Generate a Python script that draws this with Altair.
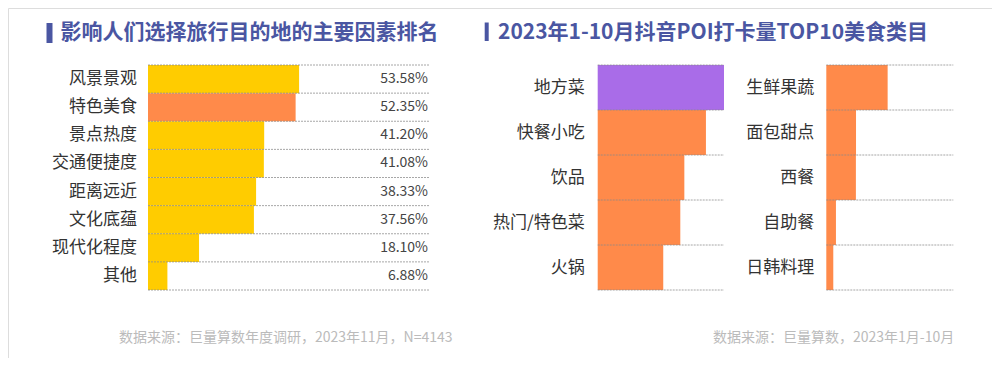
import altair as alt
import pandas as pd

FONT = "Noto Sans CJK SC"

# ---------- data ----------
left_title = "影响人们选择旅行目的地的主要因素排名"
left_cats = ["风景景观", "特色美食", "景点热度", "交通便捷度", "距离远近", "文化底蕴", "现代化程度", "其他"]
left_vals = [53.58, 52.35, 41.20, 41.08, 38.33, 37.56, 18.10, 6.88]
left_note = "数据来源：巨量算数年度调研，2023年11月，N=4143"

right_title = "2023年1-10月抖音POI打卡量TOP10美食类目"
food1_cats = ["地方菜", "快餐小吃", "饮品", "热门/特色菜", "火锅"]
food1_vals = [100.0, 85.7, 68.6, 65.4, 51.9]
food2_cats = ["生鲜果蔬", "面包甜点", "西餐", "自助餐", "日韩料理"]
food2_vals = [48.3, 23.4, 23.3, 7.6, 5.5]
right_note = "数据来源：巨量算数，2023年1月-10月"

YELLOW = "#FFCC00"
ORANGE = "#FF8A4A"
PURPLE = "#A96CE8"
TITLE_C = "#4A56A2"


def make_df(cats, vals):
    df = pd.DataFrame({"category": cats, "value": vals})
    df["rank"] = range(len(cats))
    df["rank_end"] = df["rank"] + 1
    df["mid"] = df["rank"] + 0.5
    df["label"] = [f"{v:.2f}%" for v in vals]
    return df


def panel(cats, vals, xrange, highlight, hi_color, base_color, label_dx, show_values):
    df = make_df(cats, vals)
    n = len(cats)
    xs = alt.Scale(domain=[0, 100], range=xrange)
    ys = alt.Scale(domain=[0, n], range=[57, 282])
    base = alt.Chart(df)
    bars = base.mark_bar(cornerRadius=0).encode(
        x=alt.X("value:Q", scale=xs, axis=None),
        x2=alt.X2Datum(0),
        y=alt.Y("rank:Q", scale=ys, axis=None),
        y2="rank_end:Q",
        color=alt.condition(alt.datum.category == highlight, alt.value(hi_color), alt.value(base_color)),
    )
    grid = alt.Chart(pd.DataFrame({"b": list(range(n + 1))})).mark_rule(
        color="#8a8a8a", strokeDash=[2, 1], strokeWidth=1, opacity=0.75
    ).encode(
        x=alt.XDatum(0, scale=xs, axis=None),
        x2=alt.X2Datum(100),
        y=alt.Y("b:Q", scale=ys, axis=None),
    )
    labels = base.mark_text(
        align="right", baseline="middle", dx=label_dx, font=FONT, fontSize=17, color="#333333"
    ).encode(
        x=alt.XDatum(0, scale=xs, axis=None),
        y=alt.Y("mid:Q", scale=ys, axis=None),
        text="category:N",
    )
    layers = [bars, grid, labels]
    if show_values:
        vals_t = base.mark_text(
            align="right", baseline="middle", dx=-2, font=FONT, fontSize=14, color="#444444"
        ).encode(
            x=alt.XDatum(100, scale=xs, axis=None),
            y=alt.Y("mid:Q", scale=ys, axis=None),
            text="label:N",
        )
        layers.append(vals_t)
    return layers


def text_item(txt, x, y, size, color, weight="normal"):
    return alt.Chart(pd.DataFrame({"t": [txt]})).mark_text(
        align="left", baseline="middle", font=FONT, fontSize=size, color=color, fontWeight=weight
    ).encode(x=alt.value(x), y=alt.value(y), text="t:N")


def marker(x, y1, y2, w):
    return alt.Chart(pd.DataFrame({"a": [0]})).mark_rule(color=TITLE_C, strokeWidth=w).encode(
        x=alt.value(x), y=alt.value(y1), y2=alt.value(y2)
    )


layers = []
layers += panel(left_cats, left_vals, [140, 422], "特色美食", ORANGE, YELLOW, -11, True)
layers += panel(food1_cats, food1_vals, [589.7, 716], "地方菜", PURPLE, ORANGE, -13, False)
layers += panel(food2_cats, food2_vals, [818.3, 945.3], "__none__", PURPLE, ORANGE, -12, False)
layers += [
    marker(41.5, 15, 35, 6),
    text_item(left_title, 52.5, 25, 21, TITLE_C, "bold"),
    marker(478.7, 14.5, 33, 4),
    text_item(right_title, 490, 25, 21, TITLE_C, "bold"),
    text_item(left_note, 111, 330, 14, "#BBBBBB"),
    text_item(right_note, 705, 330, 14, "#BBBBBB"),
]

chart = alt.layer(*layers).resolve_scale(x="independent", y="independent").properties(
    width=984, height=350, autosize=alt.AutoSizeParams(type="none"), padding=0
).configure_view(stroke=None).configure(background="white")

chart.save("out.html", embed_options={"renderer": "svg", "actions": False})
